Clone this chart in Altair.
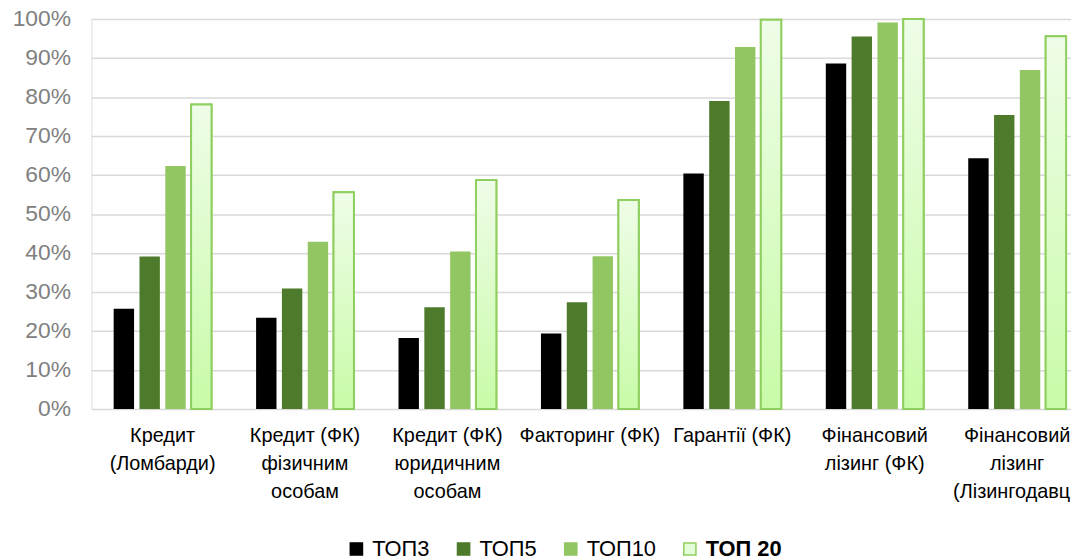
import altair as alt
import pandas as pd

categories = [
    "Кредит|(Ломбарди)",
    "Кредит (ФК)|фізичним|особам",
    "Кредит (ФК)|юридичним|особам",
    "Факторинг (ФК)",
    "Гарантії (ФК)",
    "Фінансовий|лізинг (ФК)",
    "Фінансовий|лізинг|(Лізингодавці)",
]
series = ["ТОП3", "ТОП5", "ТОП10", "ТОП 20"]
top3 = [0.257, 0.234, 0.182, 0.194, 0.604, 0.886, 0.643]
top5 = [0.391, 0.309, 0.261, 0.274, 0.790, 0.955, 0.754]
top10 = [0.623, 0.429, 0.404, 0.392, 0.928, 0.991, 0.869]
top20 = [0.781, 0.556, 0.587, 0.536, 0.998, 1.000, 0.956]
y_ticks = [0, 0.1, 0.2, 0.3, 0.4, 0.5, 0.6, 0.7, 0.8, 0.9, 1.0]

fill_colors = ["#000000", "#4e7a2b", "#92c663", "#e4fcd8"]
stroke_colors = ["#000000", "#4e7a2b", "#92c663", "#8fcf5f"]

rows = []
for vals, s in zip([top3, top5, top10, top20], series):
    for c, v in zip(categories, vals):
        rows.append({"cat": c, "series": s, "value": v})
df = pd.DataFrame(rows)

FONT = "Liberation Sans"

x_enc = alt.X(
    "cat:N",
    sort=categories,
    scale=alt.Scale(range=[0, 1004.5], paddingInner=0.275, paddingOuter=0.1375),
    axis=alt.Axis(
        title=None,
        labelExpr="split(datum.label, '|')",
        labelAngle=0,
        labelFontSize=20,
        labelColor="#000000",
        labelLineHeight=28,
        labelPadding=17,
        labelOverlap=False,
        labelBound=False,
        labelLimit=400,
        ticks=False,
        domain=False,
        grid=False,
    ),
)
xoff_enc = alt.XOffset(
    "series:N",
    sort=series,
    scale=alt.Scale(domain=series, paddingInner=0.21, paddingOuter=0.105),
)
y_enc = alt.Y(
    "value:Q",
    scale=alt.Scale(domain=[0, 1], nice=False),
    axis=alt.Axis(
        title=None,
        values=y_ticks,
        format=".0%",
        labelFontSize=23,
        labelColor="#808080",
        labelPadding=21,
        ticks=False,
        domain=False,
        grid=True,
        gridColor="#d9d9d9",
        gridWidth=1.5,
    ),
)

legend_opts = dict(
    title=None,
    orient="none",
    legendX=256,
    legendY=523,
    direction="horizontal",
    symbolType="square",
    symbolSize=150,
    symbolStrokeWidth=1.5,
    labelFontSize=22,
    labelColor="#000000",
    labelOffset=5,
    columnPadding=23,
    padding=0,
    labelFontWeight={"expr": "datum.label == 'ТОП 20' ? 'bold' : 'normal'"},
)

bars = alt.Chart(df).mark_bar().encode(
    x=x_enc,
    xOffset=xoff_enc,
    y=y_enc,
    color=alt.Color(
        "series:N",
        sort=series,
        scale=alt.Scale(domain=series, range=fill_colors),
        legend=alt.Legend(**legend_opts),
    ),
    stroke=alt.Stroke(
        "series:N",
        sort=series,
        scale=alt.Scale(domain=series, range=stroke_colors),
        legend=alt.Legend(**legend_opts),
    ),
    strokeWidth=alt.condition(alt.datum.series == "ТОП 20", alt.value(2), alt.value(0)),
)

gradient = alt.Gradient(
    gradient="linear",
    stops=[
        alt.GradientStop(offset=0, color="#effde8"),
        alt.GradientStop(offset=1, color="#c8fba8"),
    ],
    x1=0, x2=0, y1=0, y2=1,
)

overlay = alt.Chart(df).transform_filter(alt.datum.series == "ТОП 20").mark_bar(
    fill=gradient, stroke="#8fcf5f", strokeWidth=2
).encode(x=x_enc, xOffset=xoff_enc, y=y_enc)

chart = alt.layer(bars, overlay).properties(
    width=987,
    height=393,
    autosize=alt.AutoSizeParams(type="none"),
    padding={"left": 84, "top": 9, "right": 0, "bottom": 148},
).configure_view(stroke=None).configure(font=FONT)

chart.save("out.html", embed_options={"renderer": "svg", "actions": False})
